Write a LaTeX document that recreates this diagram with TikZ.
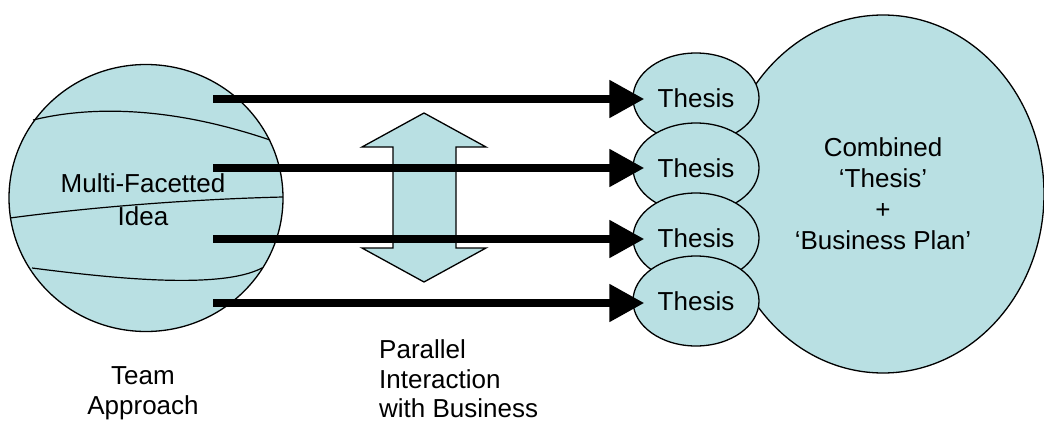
\documentclass[tikz,border=0pt]{standalone}
\usepackage{fontspec}
\setmainfont{Liberation Sans}
\usetikzlibrary{shapes.geometric,arrows.meta}
\definecolor{aqua}{HTML}{B9E0E3}
\begin{document}
\begin{tikzpicture}[x=1pt,y=-1pt,
  blob/.style={ellipse,draw=black,line width=1.3pt,fill=aqua,inner sep=0pt,
    font=\fontsize{26}{31}\selectfont,align=center},
  lbl/.style={font=\fontsize{26}{29.5}\selectfont,inner sep=0pt},
  seam/.style={line width=1.2pt},
  flow/.style={line width=8pt,-{Triangle[length=35pt,width=36pt]},shorten >=-12pt}]
\useasboundingbox (0,0) rectangle (1044,423);
% big combined circle
\node[blob,minimum width=322pt,minimum height=358pt] (comb) at (883,194)
  {Combined\\‘Thesis’\\+\\‘Business Plan’};
% thesis ellipses
\node[blob,minimum width=126pt,minimum height=90pt] (t1) at (696,98) {Thesis};
\node[blob,minimum width=126pt,minimum height=90pt] (t2) at (696,168) {Thesis};
\node[blob,minimum width=126pt,minimum height=90pt] (t3) at (696,238) {Thesis};
\node[blob,minimum width=126pt,minimum height=90pt] (t4) at (696,301) {Thesis};
% left idea circle
\node[blob,minimum width=274pt,minimum height=267pt] (idea) at (146,198) {};
\draw[seam] (33,120) .. controls (90,106) and (170,106) .. (270,140);
\draw[seam] (10,218) .. controls (100,206) and (200,199) .. (283,197);
\draw[seam] (32,268) .. controls (110,278) and (220,290) .. (262,268);
\node[font=\fontsize{26}{33}\selectfont,align=center,inner sep=0pt] (ideatxt) at (143,200) {Multi-Facetted\\Idea};
% double arrow
\draw[line width=1.3pt,fill=aqua] (424,113) -- (486,147) -- (456,147) -- (456,248) -- (486,248)
  -- (424,282) -- (362,248) -- (393,248) -- (393,147) -- (362,147) -- cycle;
% flow arrows
\coordinate (s1) at (213,99);
\coordinate (s2) at (213,168);
\coordinate (s3) at (213,239);
\coordinate (s4) at (213,303);
\draw[flow] (s1) -- (s1 -| t1.west);
\draw[flow] (s2) -- (s2 -| t2.west);
\draw[flow] (s3) -- (s3 -| t3.west);
\draw[flow] (s4) -- (s4 -| t4.west);
% labels
\node[lbl,align=center] (team) at (143,393) {Team\\Approach};
\node[lbl,align=left,anchor=west] (par) at (379,379) {Parallel\\Interaction\\with Business};
\end{tikzpicture}
\end{document}
